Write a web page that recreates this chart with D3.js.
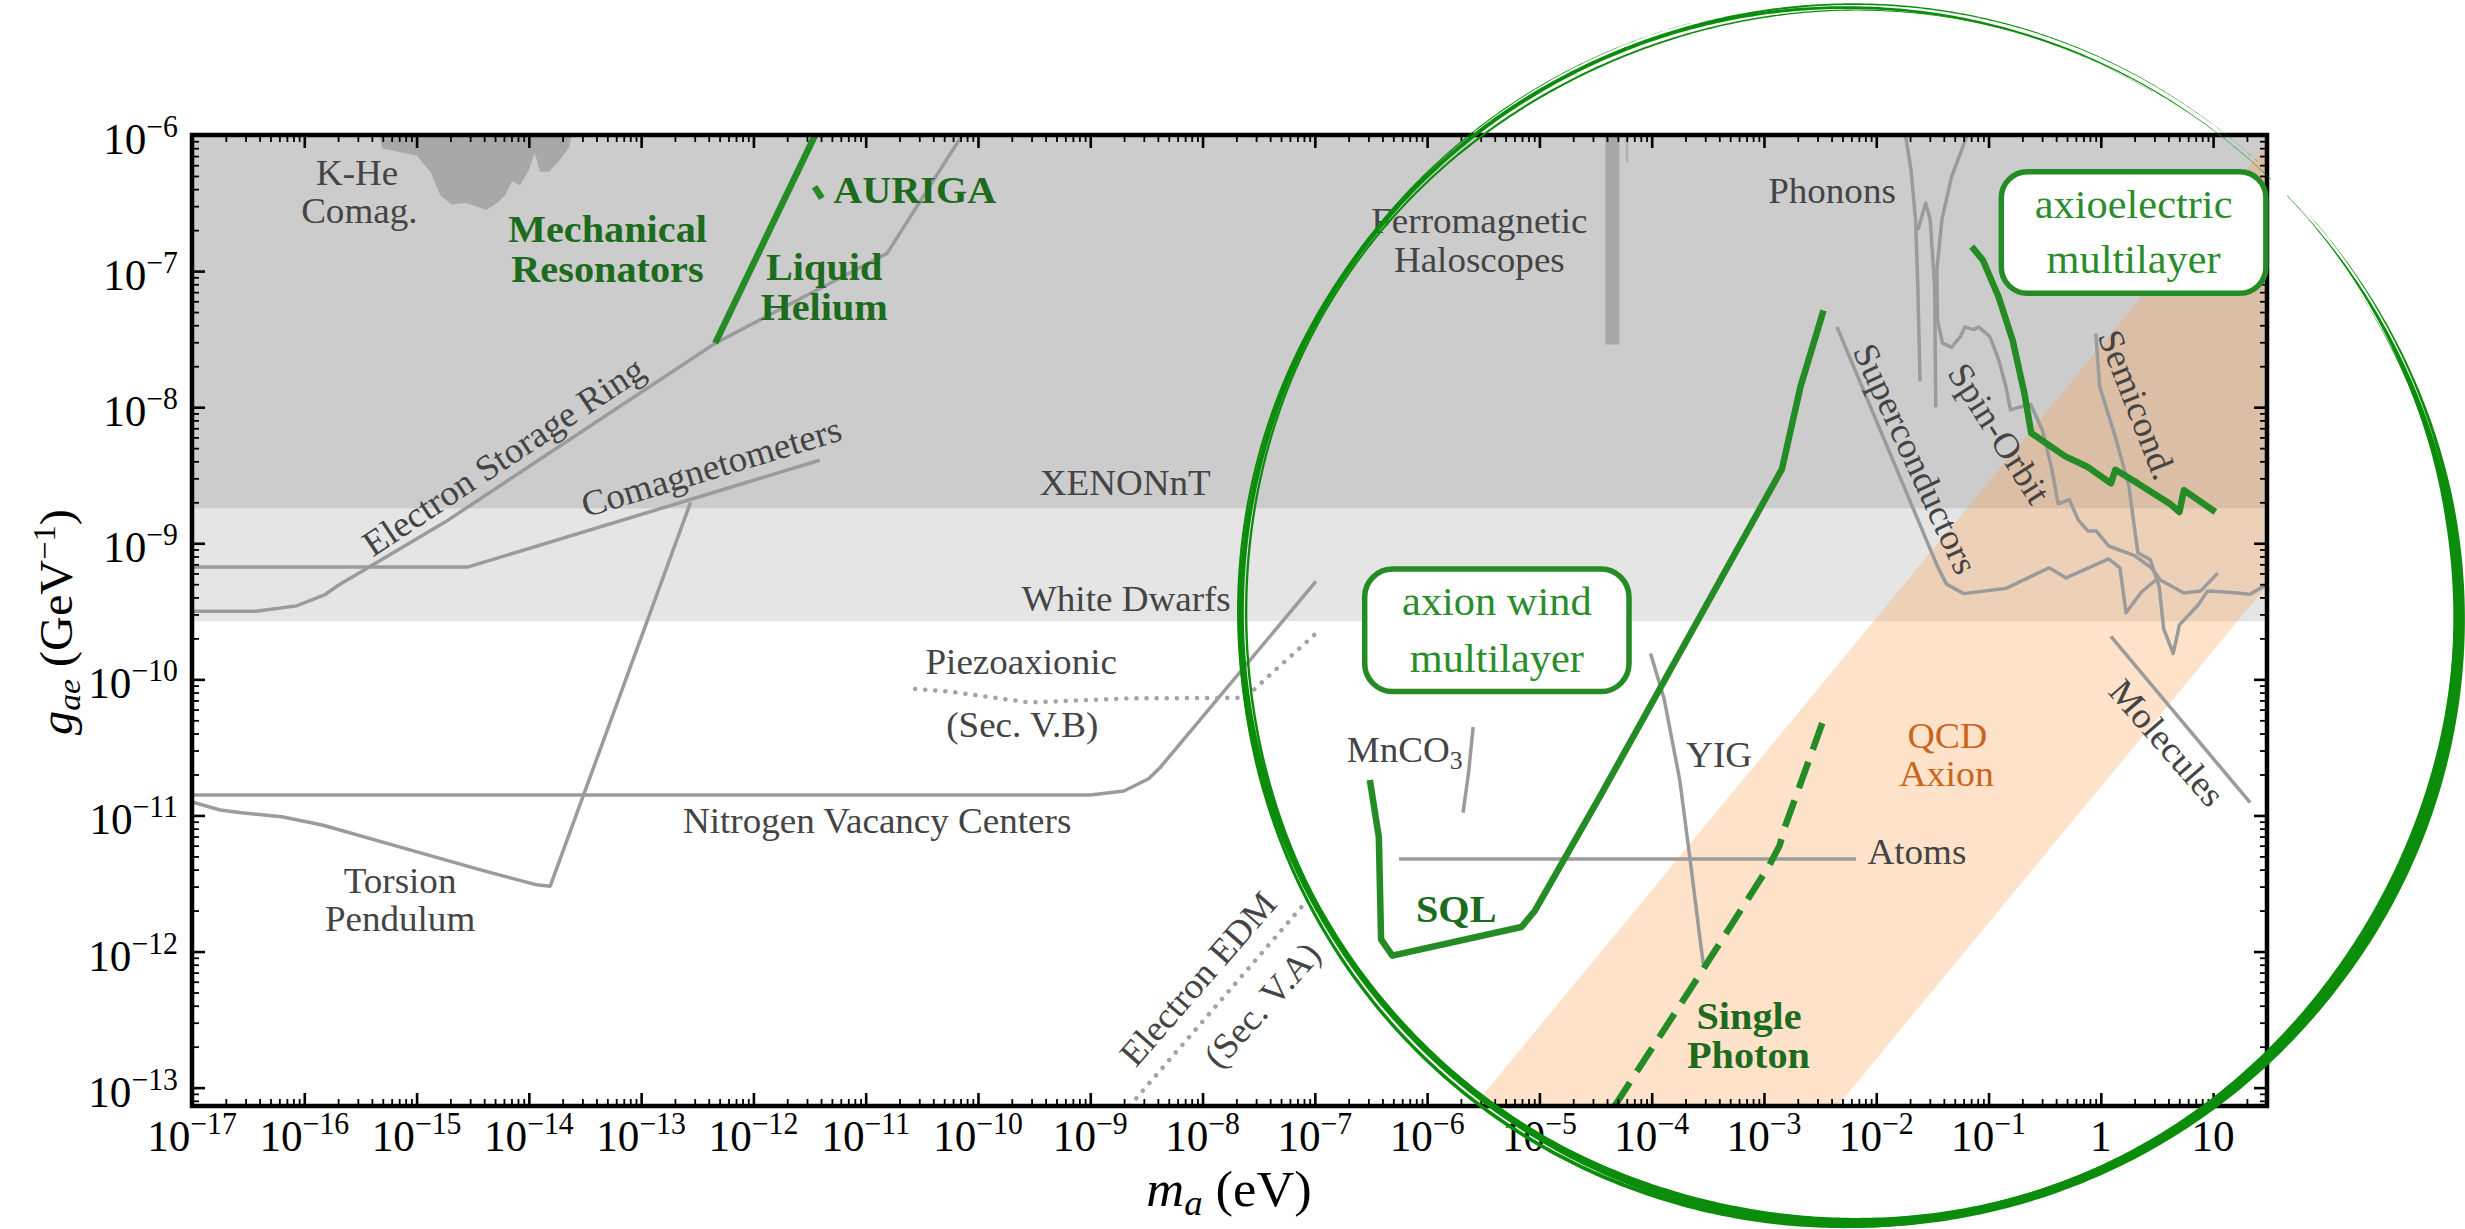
<!DOCTYPE html>
<html>
<head>
<meta charset="utf-8">
<script src="https://cdn.jsdelivr.net/npm/d3@7"></script>
<style>
  html, body { margin: 0; padding: 0; background: #ffffff; }
  svg { display: block; }
</style>
</head>
<body>
<svg id="chart" width="2465" height="1229"></svg>
<script>
// ---------------------------------------------------------------------------
// Axion-electron coupling g_ae versus axion mass m_a.
// Every curve is a list of [log10(m_a / eV), log10(g_ae / GeV^-1)] pairs.
// ---------------------------------------------------------------------------

// axis ranges
const massRange = [-17, 1.48];          // log10 eV
const couplingRange = [-13.135, -6];    // log10 GeV^-1
const xTickExponents = d3.range(-17, 2);
const yTickExponents = d3.range(-13, -5);

// excluded regions (horizontal bands)
const xenonLimit = -8.745;
const whiteDwarfLimit = -9.573;

// QCD axion band: log10 g - log10 m lies between these two offsets
const qcdBandOffsets = [-7.55, -10.79];

// existing limits (grey)
const kHeComag = [[-15.33,-6.0],[-15.305,-6.10],[-15.0,-6.15],[-14.87,-6.28],[-14.79,-6.44],[-14.69,-6.51],
  [-14.56,-6.50],[-14.38,-6.55],[-14.28,-6.50],[-14.21,-6.44],[-14.15,-6.34],[-14.08,-6.37],[-14.0,-6.26],
  [-13.95,-6.13],[-13.90,-6.27],[-13.82,-6.27],[-13.72,-6.18],[-13.64,-6.09],[-13.62,-6.0]];
const electronStorageRing = [[-17,-9.50],[-16.43,-9.50],[-16.07,-9.46],[-15.82,-9.38],[-15.70,-9.31],
  [-14.72,-8.83],[-12.34,-7.53],[-10.81,-6.87],[-10.14,-6.0]];
const comagnetometers = [[-17,-9.174],[-14.54,-9.174],[-11.41,-8.39]];
const torsionPendulum = [[-17,-10.90],[-16.75,-10.96],[-16.56,-10.98],[-16.2,-11.01],[-15.84,-11.07],
  [-15.2,-11.22],[-14.43,-11.40],[-13.93,-11.51],[-13.81,-11.52],[-12.56,-8.70]];
const nvCenters = [[-17,-10.85],[-9.0,-10.85],[-8.70,-10.82],[-8.48,-10.73],[-8.38,-10.65],[-6.99,-9.28]];
const mnco3 = [[-5.59,-10.35],[-5.63,-10.68],[-5.68,-10.98]];
const yig = [[-4.01,-9.81],[-3.89,-10.14],[-3.75,-10.74],[-3.66,-11.31],[-3.56,-11.97],[-3.54,-12.09]];
const atoms = [[-6.25,-11.32],[-2.18,-11.32]];
const molecules = [[0.09,-9.685],[1.33,-10.906]];
const ferromagneticBar = [[-4.35,-6.0],[-4.35,-7.54]];
const ferromagneticThin = [[-4.22,-6.0],[-4.22,-6.2]];
const phononsA = [[-1.74,-6.0],[-1.69,-6.26],[-1.65,-6.62],[-1.63,-7.11],[-1.61,-7.81]];
const phononsB = [[-1.63,-6.70],[-1.56,-6.50],[-1.52,-6.62],[-1.48,-7.11],[-1.47,-8.0]];
const superconductors = [[-2.35,-7.41],[-1.455,-9.17],[-1.375,-9.30],[-1.22,-9.37],[-0.84,-9.33],
  [-0.46,-9.18],[-0.31,-9.255],[0.07,-9.115],[0.17,-9.18],[0.225,-9.51],[0.36,-9.36],[0.49,-9.27]];
const spinOrbit = [[-1.19,-6.0],[-1.33,-6.31],[-1.415,-6.62],[-1.46,-6.99],[-1.455,-7.36],[-1.41,-7.53],
  [-1.33,-7.56],[-1.25,-7.48],[-1.21,-7.41],[-1.13,-7.43],[-1.09,-7.41],[-0.99,-7.48],[-0.91,-7.65],
  [-0.845,-7.85],[-0.805,-8.02],[-0.725,-8.0],[-0.625,-7.98],[-0.52,-8.17],[-0.44,-8.44],[-0.38,-8.71],
  [-0.28,-8.68],[-0.20,-8.83],[-0.115,-8.91],[-0.04,-8.91],[0.07,-9.02],[0.30,-9.09],[0.45,-9.18],
  [0.53,-9.27],[0.74,-9.365],[0.89,-9.35],[1.04,-9.22]];
const semiconductors = [[-0.045,-7.46],[-0.01,-7.85],[0.13,-8.22],[0.25,-8.58],[0.31,-8.95],[0.33,-9.07],
  [0.44,-9.12],[0.52,-9.32],[0.56,-9.63],[0.645,-9.81],[0.70,-9.60],[0.87,-9.45],[0.95,-9.35],
  [1.14,-9.36],[1.33,-9.375],[1.48,-9.30]];

// proposals (grey dotted)
const piezoaxionic = [[-10.56,-10.07],[-10.25,-10.09],[-9.54,-10.17],[-8.66,-10.14],[-7.62,-10.135],
  [-7.39,-9.96],[-7.0,-9.67]];
const electronEDM = [[-8.65,-13.135],[-7.085,-11.64]];

// projections (green)
const liquidHelium = [[-12.34,-7.53],[-11.45,-6.0]];
const auriga = [[-11.455,-6.38],[-11.39,-6.465]];
const sqlCurve = [[-6.51,-10.74],[-6.43,-11.16],[-6.41,-11.91],[-6.31,-12.03],[-5.16,-11.82],[-5.04,-11.70],
  [-4.46,-10.86],[-2.84,-8.455],[-2.675,-7.85],[-2.47,-7.29]];
const singlePhoton = [[-4.33,-13.135],[-3.58,-12.18],[-2.955,-11.37],[-2.86,-11.22],[-2.82,-11.10],[-2.48,-10.32]];
const axioelectric = [[-1.15,-6.82],[-1.05,-6.92],[-0.91,-7.19],[-0.785,-7.51],[-0.68,-7.90],[-0.62,-8.19],
  [-0.32,-8.36],[-0.115,-8.44],[0.09,-8.56],[0.13,-8.46],[0.33,-8.56],[0.615,-8.71],[0.70,-8.77],
  [0.74,-8.61],[1.02,-8.77]];

// ---------------------------------------------------------------------------
const svg = d3.select('#chart');
const frame = { left: 192, top: 135, right: 2267, bottom: 1106 };

const x = d3.scaleLog().domain(massRange.map(v => Math.pow(10, v))).range([frame.left, frame.right]);
const y = d3.scaleLog().domain(couplingRange.map(v => Math.pow(10, v))).range([frame.bottom, frame.top]);
const px = d => x(Math.pow(10, d[0]));
const py = d => y(Math.pow(10, d[1]));
const line = d3.line().x(px).y(py);

const FONT = '"Liberation Serif", "DejaVu Serif", serif';
const GREY_LINE = '#9b9b9b';
const GREEN = '#258b25';
const GREEN_LABEL = '#1d6b1d';

svg.append('defs').append('clipPath').attr('id', 'plotClip')
  .append('rect')
  .attr('x', frame.left).attr('y', frame.top)
  .attr('width', frame.right - frame.left).attr('height', frame.bottom - frame.top);

const plot = svg.append('g').attr('clip-path', 'url(#plotClip)');

// excluded bands
plot.append('rect')
  .attr('x', frame.left).attr('width', frame.right - frame.left)
  .attr('y', py([0, xenonLimit])).attr('height', py([0, whiteDwarfLimit]) - py([0, xenonLimit]))
  .attr('fill', '#e5e5e5');
plot.append('rect')
  .attr('x', frame.left).attr('width', frame.right - frame.left)
  .attr('y', frame.top).attr('height', py([0, xenonLimit]) - frame.top)
  .attr('fill', '#cccccc');

// QCD axion band
const [mLo, mHi] = massRange;
const [gLo] = couplingRange;
const qcdPolygon = [
  [gLo - qcdBandOffsets[0], gLo],
  [mHi, mHi + qcdBandOffsets[0]],
  [mHi, mHi + qcdBandOffsets[1]],
  [gLo - qcdBandOffsets[1], gLo]
];
plot.append('path').attr('d', line(qcdPolygon) + 'Z')
  .attr('fill', 'rgb(255,160,80)').attr('fill-opacity', 0.3);

// K-He comagnetometer region
plot.append('path').attr('d', line(kHeComag) + 'Z').attr('fill', '#a8a8a8');

// ferromagnetic haloscopes
plot.append('path').attr('d', line(ferromagneticBar))
  .attr('stroke', '#a8a8a8').attr('stroke-width', 14).attr('fill', 'none');
plot.append('path').attr('d', line(ferromagneticThin))
  .attr('stroke', '#b0b0b0').attr('stroke-width', 2.5).attr('fill', 'none');

// grey limit curves
[electronStorageRing, comagnetometers, torsionPendulum, nvCenters, mnco3, yig, atoms, molecules,
 phononsA, phononsB, superconductors, spinOrbit, semiconductors].forEach(c => {
  plot.append('path').attr('d', line(c))
    .attr('fill', 'none').attr('stroke', GREY_LINE).attr('stroke-width', 3.5)
    .attr('stroke-linejoin', 'round');
});

// grey dotted proposals
[piezoaxionic, electronEDM].forEach(c => {
  plot.append('path').attr('d', line(c))
    .attr('fill', 'none').attr('stroke', '#a3a3a3').attr('stroke-width', 4.5)
    .attr('stroke-linecap', 'round').attr('stroke-dasharray', '0.1,10');
});

// green projections
[liquidHelium, auriga].forEach(c => {
  plot.append('path').attr('d', line(c)).attr('fill', 'none')
    .attr('stroke', GREEN).attr('stroke-width', 6.5);
});
[sqlCurve, axioelectric].forEach(c => {
  plot.append('path').attr('d', line(c)).attr('fill', 'none')
    .attr('stroke', GREEN).attr('stroke-width', 6.5).attr('stroke-linejoin', 'round');
});
plot.append('path').attr('d', line(singlePhoton)).attr('fill', 'none')
  .attr('stroke', GREEN).attr('stroke-width', 6.5).attr('stroke-dasharray', '28,13');

// ---------------------------------------------------------------------------
// axes: ticks on all four sides, pointing inward
const minorTicks = (lo, hi) => {
  const out = [];
  for (let e = Math.floor(lo); e <= Math.ceil(hi); e++) {
    for (let k = 2; k <= 9; k++) {
      const v = k * Math.pow(10, e);
      const l = Math.log10(v);
      if (l > lo && l < hi) out.push(v);
    }
  }
  return out;
};
const xMajor = xTickExponents.map(e => Math.pow(10, e));
const yMajor = yTickExponents.map(e => Math.pow(10, e));
const xMinor = minorTicks(massRange[0], massRange[1]);
const yMinor = minorTicks(couplingRange[0], couplingRange[1]);

function drawAxis(gen, transform, values, size, width) {
  const g = svg.append('g').attr('transform', transform)
    .call(gen.tickValues(values).tickSize(-size).tickSizeOuter(0).tickFormat(''));
  g.select('.domain').remove();
  g.selectAll('line').attr('stroke', '#000').attr('stroke-width', width);
}
[[xMajor, 13, 2.6], [xMinor, 7, 1.8]].forEach(([v, s, w]) => {
  drawAxis(d3.axisBottom(x), `translate(0,${frame.bottom})`, v, s, w);
  drawAxis(d3.axisTop(x), `translate(0,${frame.top})`, v, s, w);
});
[[yMajor, 13, 2.6], [yMinor, 7, 1.8]].forEach(([v, s, w]) => {
  drawAxis(d3.axisLeft(y), `translate(${frame.left},0)`, v, s, w);
  drawAxis(d3.axisRight(y), `translate(${frame.right},0)`, v, s, w);
});

svg.append('rect')
  .attr('x', frame.left).attr('y', frame.top)
  .attr('width', frame.right - frame.left).attr('height', frame.bottom - frame.top)
  .attr('fill', 'none').attr('stroke', '#000').attr('stroke-width', 4.5);

// tick labels 10^n
function powerLabel(sel, e) {
  if (e === 0) { sel.append('tspan').text('1'); return; }
  if (e === 1) { sel.append('tspan').text('10'); return; }
  sel.append('tspan').text('10');
  sel.append('tspan').attr('font-size', 31).attr('dy', -17).text('\u2212' + (-e));
}
xTickExponents.forEach(e => {
  const t = svg.append('text')
    .attr('transform', `translate(${x(Math.pow(10, e))},1151) scale(0.96,1)`)
    .attr('text-anchor', 'middle').attr('font-family', FONT).attr('font-size', 45);
  powerLabel(t, e);
});
yTickExponents.forEach(e => {
  const t = svg.append('text')
    .attr('transform', `translate(178,${y(Math.pow(10, e)) + 19}) scale(0.96,1)`)
    .attr('text-anchor', 'end').attr('font-family', FONT).attr('font-size', 45);
  powerLabel(t, e);
});

// axis titles
const xt = svg.append('text')
  .attr('transform', 'translate(1229,1206) scale(1.05,1)')
  .attr('text-anchor', 'middle').attr('font-family', FONT).attr('font-size', 50);
xt.append('tspan').attr('font-style', 'italic').text('m');
xt.append('tspan').attr('font-style', 'italic').attr('font-size', 35).attr('dy', 9).text('a');
xt.append('tspan').attr('dy', -9).text(' (eV)');

const yt = svg.append('text')
  .attr('transform', 'translate(72,622) rotate(-90) scale(1.05,1)')
  .attr('text-anchor', 'middle').attr('font-family', FONT).attr('font-size', 46);
yt.append('tspan').attr('font-style', 'italic').text('g');
yt.append('tspan').attr('font-style', 'italic').attr('font-size', 32).attr('dy', 8).text('ae');
yt.append('tspan').attr('dy', -8).text(' (GeV');
yt.append('tspan').attr('font-size', 31).attr('dy', -17).text('\u22121');
yt.append('tspan').attr('dy', 17).text(')');

// ---------------------------------------------------------------------------
// rounded label boxes (data-space corners)
const boxes = [
  { from: [-6.556, -9.189], to: [-4.202, -10.090], r: 28 },
  { from: [-0.886, -6.270], to: [1.470, -7.163], r: 26 }
];
boxes.forEach(b => {
  svg.append('rect')
    .attr('x', px(b.from)).attr('y', py(b.from))
    .attr('width', px(b.to) - px(b.from)).attr('height', py(b.to) - py(b.from))
    .attr('rx', b.r).attr('ry', b.r)
    .attr('fill', '#ffffff').attr('stroke', GREEN).attr('stroke-width', 5.5);
});

// text annotations
const styles = {
  grey:  { fill: '#444444', size: 36, weight: 'normal', sx: 1.03 },
  green: { fill: GREEN_LABEL, size: 38, weight: 'bold', sx: 1.06 },
  box:   { fill: '#2a8c2a', size: 40, weight: 'normal', sx: 1.06 },
  qcd:   { fill: '#c9661b', size: 36, weight: 'normal', sx: 1.05 }
};
const annotations = [
  { t: 'K-He', at: [-15.53, -6.367], s: 'grey' },
  { t: 'Comag.', at: [-15.51, -6.647], s: 'grey' },
  { t: 'Mechanical', at: [-13.30, -6.784], s: 'green' },
  { t: 'Resonators', at: [-13.30, -7.078], s: 'green' },
  { t: 'AURIGA', at: [-11.29, -6.502], s: 'green', anchor: 'start' },
  { t: 'Liquid', at: [-11.37, -7.065], s: 'green' },
  { t: 'Helium', at: [-11.37, -7.359], s: 'green' },
  { t: 'Electron Storage Ring', at: [-14.167, -8.436], s: 'grey', rot: -33.5 },
  { t: 'Comagnetometers', at: [-12.344, -8.525], s: 'grey', rot: -16.8 },
  { t: 'XENONnT', at: [-8.688, -8.645], s: 'grey' },
  { t: 'White Dwarfs', at: [-8.679, -9.497], s: 'grey' },
  { t: 'Piezoaxionic', at: [-9.615, -9.960], s: 'grey' },
  { t: '(Sec. V.B)', at: [-9.606, -10.423], s: 'grey' },
  { t: 'Nitrogen Vacancy Centers', at: [-10.898, -11.129], s: 'grey' },
  { t: 'Torsion', at: [-15.147, -11.567], s: 'grey' },
  { t: 'Pendulum', at: [-15.147, -11.849], s: 'grey' },
  { t: 'Ferromagnetic', at: [-5.535, -6.720], s: 'grey' },
  { t: 'Haloscopes', at: [-5.535, -7.004], s: 'grey' },
  { t: 'Phonons', at: [-2.394, -6.497], s: 'grey' },
  { t: 'Superconductors', at: [-1.749, -8.416], s: 'grey', rot: 65.2 },
  { t: 'Spin-Orbit', at: [-0.996, -8.240], s: 'grey', rot: 57.5 },
  { t: 'Semicond.', at: [0.226, -8.015], s: 'grey', rot: 68.5 },
  { t: 'Molecules', at: [0.507, -10.525], s: 'grey', rot: 49 },
  { t: 'YIG', at: [-3.40, -10.644], s: 'grey' },
  { t: 'Atoms', at: [-2.078, -11.356], s: 'grey', anchor: 'start' },
  { t: 'Electron EDM', at: [-7.959, -12.259], s: 'grey', rot: -48.9 },
  { t: '(Sec. V.A)', at: [-7.390, -12.451], s: 'grey', rot: -48 },
  { t: 'QCD', at: [-1.367, -10.501], s: 'qcd' },
  { t: 'Axion', at: [-1.374, -10.783], s: 'qcd' },
  { t: 'SQL', at: [-5.741, -11.780], s: 'green' },
  { t: 'Single', at: [-3.133, -12.569], s: 'green' },
  { t: 'Photon', at: [-3.138, -12.855], s: 'green' },
  { t: 'axion wind', at: [-5.379, -9.527], s: 'box' },
  { t: 'multilayer', at: [-5.379, -9.946], s: 'box' },
  { t: 'axioelectric', at: [0.292, -6.612], s: 'box' },
  { t: 'multilayer', at: [0.292, -7.016], s: 'box' }
];
annotations.forEach(a => {
  const st = styles[a.s];
  svg.append('text')
    .attr('transform', `translate(${px(a.at)},${py(a.at)}) rotate(${a.rot || 0}) scale(${st.sx},1)`)
    .attr('text-anchor', a.anchor || 'middle')
    .attr('font-family', FONT).attr('font-size', st.size).attr('font-weight', st.weight)
    .attr('fill', st.fill)
    .text(a.t);
});
// MnCO3 with subscript
{
  const at = [-6.716, -10.607];
  const t = svg.append('text')
    .attr('transform', `translate(${px(at)},${py(at)}) scale(1.03,1)`)
    .attr('font-family', FONT).attr('font-size', 36).attr('fill', '#444444');
  t.append('tspan').text('MnCO');
  t.append('tspan').attr('font-size', 25).attr('dy', 7).text('3');
}

// ---------------------------------------------------------------------------
// hand-drawn highlight ring around the meV-eV region
const ringCenter = [-2.238, -9.531];
const ringRadius = 608;
const ringStrokes = [
  { start: -43.8, end: 314, dr: 0,    amp: 1.5, freq: 2, phase: 0.0, w: 6.5, wVar: 0.40, rampIn: 35, rampOut: 75 },
  { start: -41,   end: 255, dr: 3.6,  amp: 2.0, freq: 3, phase: 1.0, w: 3.4, wVar: 0.30, rampIn: 30, rampOut: 45 },
  { start: -32,   end: 300, dr: -3.2, amp: 1.6, freq: 5, phase: 2.0, w: 3.0, wVar: 0.30, rampIn: 25, rampOut: 60 },
  { start: 140,   end: 312, dr: 2.8,  amp: 1.2, freq: 4, phase: 0.5, w: 2.6, wVar: 0.20, rampIn: 30, rampOut: 55 }
];
function ringPath(cx, cy, R, o) {
  const n = 720, outer = [], inner = [];
  for (let i = 0; i <= n; i++) {
    const deg = o.start + (o.end - o.start) * i / n;
    const rad = deg * Math.PI / 180;
    const rr = R + o.dr + o.amp * Math.sin(o.freq * rad + o.phase);
    const taper = Math.max(0.08, Math.min(1, (deg - o.start) / o.rampIn, (o.end - deg) / o.rampOut));
    const w = o.w * (1 + o.wVar * Math.cos(rad - Math.PI / 4)) * taper;
    outer.push([cx + (rr + w / 2) * Math.cos(rad), cy + (rr + w / 2) * Math.sin(rad)]);
    inner.push([cx + (rr - w / 2) * Math.cos(rad), cy + (rr - w / 2) * Math.sin(rad)]);
  }
  return d3.line()(outer.concat(inner.reverse())) + 'Z';
}
const ring = svg.append('g');
ringStrokes.forEach(o => {
  ring.append('path').attr('d', ringPath(px(ringCenter), py(ringCenter), ringRadius, o))
    .attr('fill', '#0b8c0b');
});
</script>
</body>
</html>
